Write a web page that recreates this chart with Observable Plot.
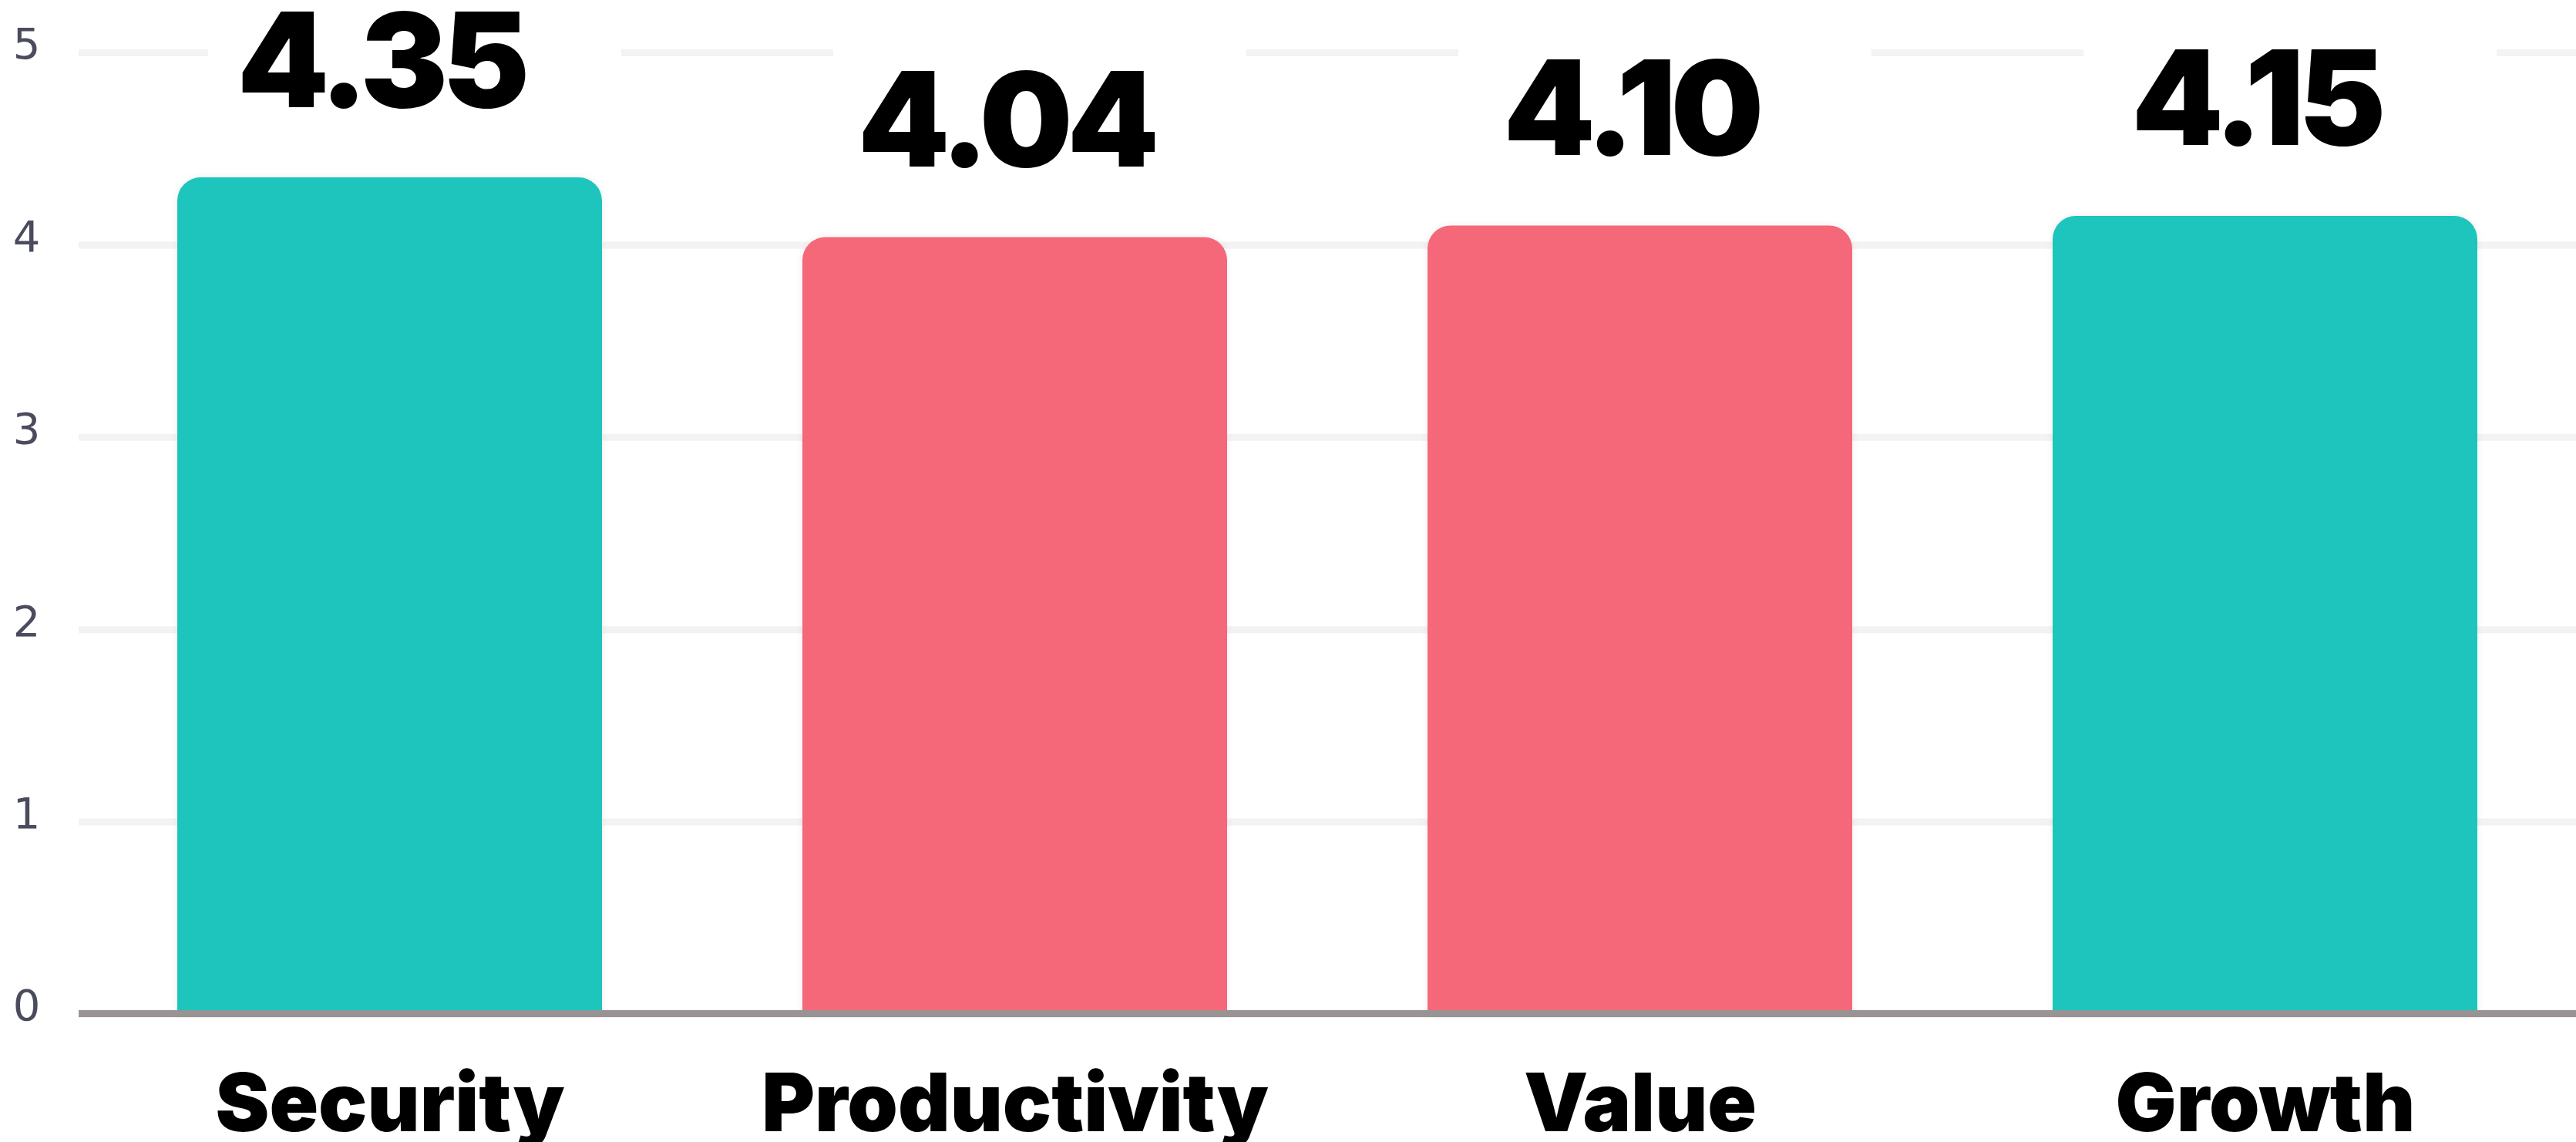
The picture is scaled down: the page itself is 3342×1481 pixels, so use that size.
<!DOCTYPE html>
<html>
<head>
<meta charset="utf-8">
<script src="https://cdn.jsdelivr.net/npm/d3@7"></script>
<script src="https://cdn.jsdelivr.net/npm/@observablehq/plot@0.6"></script>
<style>
  html, body { margin: 0; padding: 0; background: #ffffff; }
  #chart svg { display: block; }
  .bars { filter: drop-shadow(0 0 5px rgba(0,0,0,0.07)); }
  .vals text { letter-spacing: -7px; }
</style>
</head>
<body>
<div id="chart"></div>
<script>
const categories = ["Security", "Productivity", "Value", "Growth"];
const values = [4.35, 4.04, 4.10, 4.15];
const groups = ["high", "low", "low", "high"];
const yTicks = [0, 1, 2, 3, 4, 5];

const data = categories.map((c, i) => ({category: c, value: values[i], group: groups[i]}));

const chart = Plot.plot({
  width: 3342,
  height: 1481,
  marginLeft: 102,
  marginRight: 0,
  marginTop: 68,
  marginBottom: 166,
  style: {background: "#ffffff", overflow: "hidden"},
  x: {domain: categories, paddingInner: 0.32, paddingOuter: 0.157, label: null},
  y: {domain: [0, 5], label: null},
  color: {domain: ["high", "low"], range: ["#1dc5bd", "#f4687a"]},
  marks: [
    Plot.gridY(yTicks, {stroke: "#f4f2f2", strokeOpacity: 1, strokeWidth: 9}),
    Plot.barY(data, {x: "category", y: "value", fill: "group", ry1: 30, className: "bars"}),
    Plot.barY(data, {x: "category", y1: d => d.value + 0.25, y2: d => d.value + 1.1, fill: "#ffffff", insetLeft: 40, insetRight: -25}),
    Plot.ruleY([0], {stroke: "#999393", strokeWidth: 9, dy: -1}),
    Plot.text(data, {x: "category", y: "value", text: d => d.value.toFixed(2), lineAnchor: "bottom", dy: -92, dx: -12,
      fontSize: 170, fontWeight: 900, fontFamily: "Inter", fill: "#000000", className: "vals"}),
    Plot.axisY(yTicks, {tickSize: 0, tickPadding: 50, fontSize: 56, fontFamily: "DejaVu Sans", color: "#4b4b5e", dy: -10, tickFormat: d3.format("d"), label: null}),
    Plot.axisX({tickSize: 0, tickPadding: 77, fontSize: 105, fontWeight: 900, fontFamily: "Inter", color: "#000000", label: null})
  ]
});
document.getElementById("chart").appendChild(chart);
</script>
</body>
</html>
